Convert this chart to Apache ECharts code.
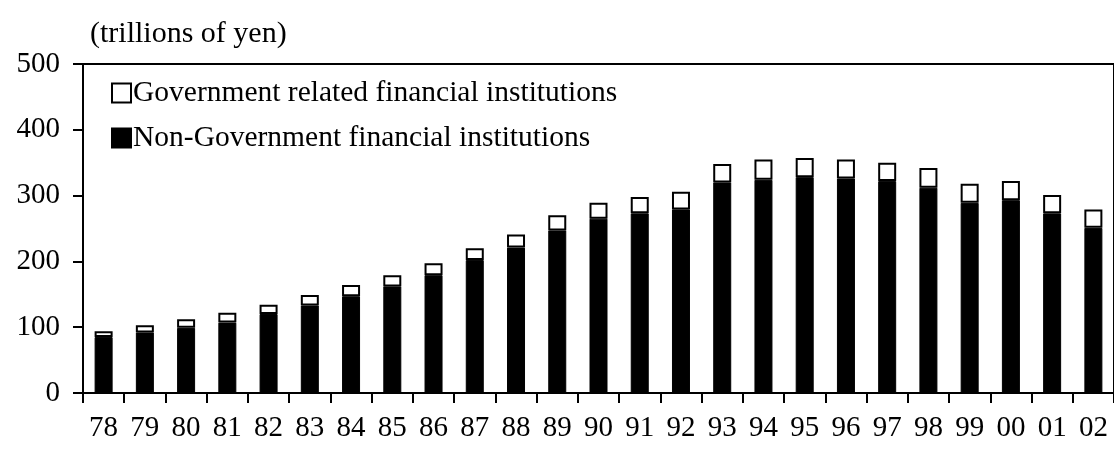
<!DOCTYPE html>
<html>
<head>
<meta charset="utf-8">
<script src="https://cdn.jsdelivr.net/npm/echarts@6/dist/echarts.min.js"></script>
<style>
html,body{margin:0;padding:0;background:#fff;}
#chart{width:1114px;height:456px;}
</style>
</head>
<body>
<div id="chart"></div>
<script>
const years = ['78','79','80','81','82','83','84','85','86','87','88','89','90','91','92','93','94','95','96','97','98','99','00','01','02'];
const nonGov = [85, 92, 99, 107, 120, 133, 147, 162, 179, 202, 221, 247, 265, 273, 279, 320, 324, 328, 326, 322, 312, 289, 293, 273, 251];
const gov = [9, 11, 13, 15, 14, 16, 17, 17, 18, 18, 20, 23, 24, 25, 27, 28, 31, 29, 29, 28, 30, 29, 29, 28, 28];
const yTicks = [0, 100, 200, 300, 400, 500];
const unitLabel = '(trillions of yen)';
const govName = 'Government related financial institutions';
const nonGovName = 'Non-Government financial institutions';

const FONT = 'Liberation Serif';
const FS = 29;
const chart = echarts.init(document.getElementById('chart'));
chart.setOption({
  animation: false,
  backgroundColor: '#fff',
  textStyle: {fontFamily: FONT, color: '#000'},
  title: {
    text: unitLabel,
    left: 85, top: 14,
    textStyle: {fontFamily: FONT, fontSize: 30, fontWeight: 'normal', color: '#000'}
  },
  legend: {
    orient: 'vertical',
    left: 106, top: 73,
    itemWidth: 19, itemHeight: 19,
    itemGap: 15,
    icon: 'rect',
    data: [govName, nonGovName],
    textStyle: {fontFamily: FONT, fontSize: 29.5, color: '#000', padding: [0,0,0,-3]}
  },
  grid: {
    left: 83, top: 64, width: 1037, height: 329,
    show: true, borderColor: '#000', borderWidth: 2, backgroundColor: 'transparent'
  },
  xAxis: {
    type: 'category',
    data: years,
    axisLine: {lineStyle: {color: '#000', width: 2}},
    axisTick: {show: true, length: 10, lineStyle: {color: '#000', width: 2}},
    axisLabel: {fontFamily: FONT, fontSize: FS, color: '#000', margin: 21, interval: 0}
  },
  yAxis: {
    type: 'value',
    min: yTicks[0], max: yTicks[yTicks.length-1], interval: 100,
    splitLine: {show: false},
    axisLine: {show: true, lineStyle: {color: '#000', width: 2}},
    axisTick: {show: true, length: 10, lineStyle: {color: '#000', width: 2}},
    axisLabel: {fontFamily: FONT, fontSize: FS, color: '#000', margin: 23}
  },
  series: [
    {
      name: nonGovName, type: 'bar', stack: 'total', data: nonGov,
      barWidth: 18,
      itemStyle: {color: '#000', borderColor: '#000', borderWidth: 1}
    },
    {
      name: govName, type: 'bar', stack: 'total', data: gov,
      barWidth: 18,
      itemStyle: {color: '#fff', borderColor: '#000', borderWidth: 2}
    }
  ]
});
</script>
</body>
</html>
